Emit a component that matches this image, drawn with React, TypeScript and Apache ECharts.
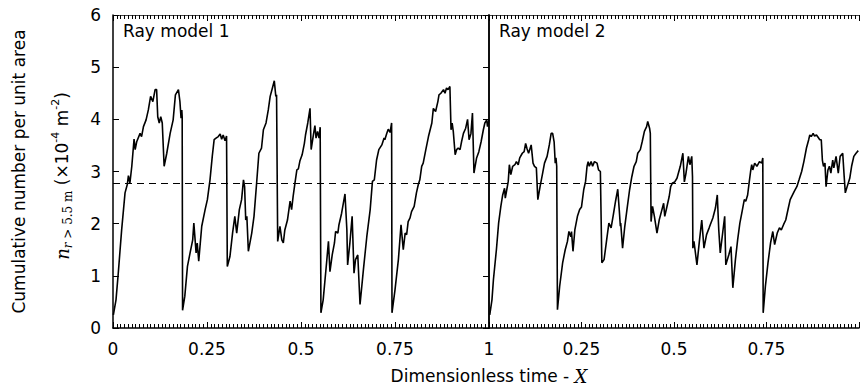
import React, { useEffect, useRef } from "react";
import * as echarts from "echarts";

// Dimensionless time X (0..1) and cumulative number per unit area (x10^-4 m^-2)
const rayModel1: [number, number][] = [
  [0.001, 0.25], [0.008, 0.54], [0.014, 1.05], [0.023, 1.88], [0.032, 2.59], [0.038, 2.75], [0.041, 2.92], [0.045, 2.78],
  [0.05, 3.1], [0.056, 3.62], [0.059, 3.42], [0.063, 3.57], [0.072, 3.73], [0.076, 3.67], [0.081, 3.86], [0.088, 3.99],
  [0.094, 4.18], [0.1, 4.44], [0.106, 4.34], [0.112, 4.57], [0.116, 4.57], [0.119, 4.05], [0.123, 3.93], [0.127, 4.05],
  [0.131, 3.93], [0.136, 3.1], [0.143, 3.35], [0.152, 3.73], [0.16, 3.99], [0.166, 4.47], [0.174, 4.57], [0.178, 4.34],
  [0.181, 4.02], [0.183, 4.18], [0.184, 4.05], [0.185, 0.34], [0.191, 0.61], [0.198, 1.18], [0.205, 1.44], [0.212, 1.69],
  [0.215, 2.01], [0.221, 1.44], [0.224, 1.63], [0.228, 1.28], [0.236, 1.95], [0.245, 2.27], [0.251, 2.46], [0.258, 2.84],
  [0.264, 3.29], [0.269, 3.61], [0.274, 3.64], [0.28, 3.67], [0.285, 3.72], [0.289, 3.62], [0.293, 3.7], [0.298, 3.59],
  [0.302, 3.68], [0.304, 1.18], [0.311, 1.37], [0.318, 1.82], [0.324, 2.14], [0.329, 1.82], [0.336, 2.27], [0.342, 2.46],
  [0.347, 2.84], [0.35, 2.71], [0.353, 2.07], [0.356, 2.14], [0.36, 1.47], [0.369, 1.82], [0.375, 2.14], [0.382, 2.78],
  [0.388, 3.35], [0.395, 3.45], [0.4, 3.8], [0.407, 3.93], [0.413, 4.18], [0.418, 4.44], [0.424, 4.6], [0.429, 4.74],
  [0.433, 4.44], [0.435, 4.47], [0.438, 1.66], [0.444, 1.95], [0.449, 1.69], [0.453, 1.63], [0.457, 1.88], [0.464, 2.07],
  [0.471, 2.43], [0.475, 2.27], [0.479, 2.52], [0.484, 2.78], [0.489, 3.03], [0.493, 3.05], [0.497, 3.2], [0.503, 3.32],
  [0.509, 3.54], [0.512, 3.7], [0.518, 3.93], [0.524, 4.21], [0.527, 3.42], [0.533, 3.7], [0.537, 3.88], [0.54, 3.64],
  [0.544, 3.77], [0.548, 3.64], [0.551, 3.85], [0.553, 0.29], [0.559, 0.54], [0.568, 1.25], [0.573, 1.66], [0.577, 1.08],
  [0.583, 1.4], [0.589, 1.63], [0.592, 1.85], [0.598, 1.82], [0.601, 1.98], [0.608, 2.2], [0.617, 2.57], [0.622, 1.88],
  [0.624, 1.21], [0.63, 1.63], [0.636, 2.14], [0.641, 1.05], [0.645, 1.31], [0.651, 1.4], [0.657, 0.45], [0.666, 1.12],
  [0.675, 1.75], [0.684, 2.27], [0.69, 2.81], [0.695, 2.84], [0.701, 3.22], [0.707, 3.42], [0.715, 3.51], [0.721, 3.64],
  [0.723, 3.61], [0.728, 3.73], [0.732, 3.81], [0.737, 3.75], [0.741, 3.93], [0.742, 0.29], [0.75, 0.73], [0.759, 1.31],
  [0.766, 1.98], [0.772, 1.5], [0.777, 1.82], [0.781, 1.79], [0.785, 2.04], [0.79, 2.11], [0.794, 2.23], [0.801, 2.33],
  [0.807, 2.59], [0.812, 2.75], [0.816, 2.84], [0.821, 3.1], [0.825, 3.16], [0.832, 3.42], [0.839, 3.67], [0.848, 3.93],
  [0.852, 4.21], [0.858, 4.15], [0.864, 4.34], [0.867, 4.47], [0.872, 4.5], [0.879, 4.57], [0.883, 4.5], [0.887, 4.6],
  [0.891, 4.57], [0.896, 4.63], [0.899, 3.8], [0.902, 3.93], [0.905, 3.77], [0.91, 3.32], [0.914, 3.42], [0.918, 3.45],
  [0.923, 3.42], [0.927, 3.57], [0.932, 3.73], [0.938, 3.83], [0.943, 4.0], [0.947, 3.61], [0.952, 3.73], [0.956, 4.12],
  [0.96, 2.97], [0.967, 3.26], [0.973, 3.38], [0.979, 3.57], [0.985, 3.8], [0.989, 3.93], [0.994, 3.99], [0.996, 3.86],
  [1.0, 3.99],
];

const rayModel2: [number, number][] = [
  [0.002, 0.25], [0.008, 0.54], [0.012, 0.93], [0.02, 1.5], [0.026, 2.01], [0.032, 2.33], [0.037, 2.55], [0.042, 2.68],
  [0.044, 2.49], [0.048, 2.65], [0.052, 2.81], [0.055, 3.13], [0.059, 2.94], [0.064, 3.1], [0.07, 3.13], [0.074, 3.19],
  [0.079, 3.13], [0.083, 3.26], [0.09, 3.35], [0.095, 3.38], [0.099, 3.54], [0.103, 3.43], [0.107, 3.35], [0.114, 3.51],
  [0.119, 3.16], [0.123, 3.1], [0.128, 3.07], [0.132, 2.46], [0.138, 2.71], [0.145, 2.97], [0.15, 3.16], [0.157, 3.29],
  [0.163, 3.51], [0.168, 3.73], [0.172, 3.73], [0.176, 3.57], [0.179, 3.16], [0.181, 3.26], [0.183, 3.1], [0.185, 0.35],
  [0.191, 0.8], [0.199, 1.25], [0.206, 1.5], [0.212, 1.66], [0.216, 1.85], [0.221, 1.75], [0.223, 1.85], [0.227, 1.47],
  [0.232, 1.88], [0.239, 2.14], [0.245, 2.27], [0.25, 2.32], [0.256, 2.65], [0.261, 2.81], [0.265, 3.1], [0.268, 3.19],
  [0.271, 3.1], [0.276, 3.19], [0.28, 3.1], [0.285, 3.19], [0.292, 3.16], [0.296, 3.03], [0.301, 3.0], [0.305, 1.25],
  [0.311, 1.31], [0.318, 1.69], [0.324, 2.01], [0.33, 1.92], [0.336, 2.17], [0.342, 2.43], [0.348, 2.66], [0.352, 2.27],
  [0.355, 1.95], [0.356, 2.01], [0.361, 1.53], [0.367, 1.95], [0.374, 2.33], [0.38, 2.65], [0.386, 2.9], [0.392, 3.1],
  [0.398, 3.19], [0.402, 3.35], [0.409, 3.42], [0.414, 3.57], [0.42, 3.77], [0.426, 3.86], [0.429, 3.96], [0.434, 3.83],
  [0.436, 3.73], [0.438, 2.04], [0.442, 2.33], [0.447, 2.14], [0.454, 1.82], [0.46, 2.07], [0.466, 2.23], [0.472, 2.39],
  [0.475, 2.14], [0.481, 2.33], [0.487, 2.52], [0.491, 2.71], [0.496, 2.78], [0.502, 2.8], [0.508, 2.87], [0.517, 3.1],
  [0.524, 3.35], [0.528, 2.8], [0.532, 2.95], [0.539, 3.29], [0.543, 3.13], [0.548, 3.29], [0.55, 2.9], [0.551, 1.53],
  [0.554, 1.66], [0.562, 1.21], [0.569, 1.69], [0.575, 2.07], [0.581, 1.53], [0.588, 1.79], [0.595, 1.92], [0.598, 1.98],
  [0.605, 2.11], [0.612, 2.3], [0.617, 2.55], [0.621, 1.88], [0.625, 1.44], [0.632, 1.85], [0.637, 2.14], [0.64, 1.21],
  [0.648, 1.4], [0.654, 1.56], [0.659, 0.77], [0.666, 1.31], [0.672, 1.69], [0.678, 2.01], [0.685, 2.27], [0.69, 2.46],
  [0.694, 2.43], [0.699, 2.55], [0.703, 2.78], [0.707, 3.0], [0.71, 3.13], [0.713, 3.03], [0.718, 3.16], [0.724, 3.1],
  [0.731, 3.19], [0.737, 3.16], [0.74, 3.26], [0.741, 0.29], [0.747, 0.8], [0.754, 1.25], [0.761, 1.63], [0.767, 1.85],
  [0.772, 1.6], [0.779, 1.82], [0.785, 1.92], [0.79, 1.88], [0.796, 1.98], [0.802, 2.07], [0.809, 2.3], [0.814, 2.46],
  [0.818, 2.52], [0.825, 2.62], [0.832, 2.71], [0.838, 2.84], [0.845, 3.0], [0.851, 3.19], [0.858, 3.45], [0.864, 3.61],
  [0.867, 3.7], [0.871, 3.67], [0.876, 3.73], [0.88, 3.68], [0.885, 3.7], [0.889, 3.66], [0.894, 3.61], [0.898, 3.61],
  [0.901, 3.22], [0.904, 3.1], [0.908, 3.16], [0.911, 2.71], [0.914, 2.9], [0.916, 3.03], [0.92, 3.1], [0.924, 2.97],
  [0.929, 3.22], [0.932, 3.07], [0.938, 3.29], [0.944, 2.97], [0.949, 3.29], [0.956, 3.35], [0.96, 2.9], [0.963, 2.59],
  [0.968, 2.71], [0.975, 2.87], [0.98, 3.1], [0.986, 3.29], [0.992, 3.35], [0.998, 3.4],
];

const threshold = 2.78;
const panelTitles = ["Ray model 1", "Ray model 2"];
const xRange = [0, 1];
const xStep = 0.25;
const yRange = [0, 6];
const yStep = 1;
const xTitle = "Dimensionless time - ";
const xTitleVar = "X";
const yTitle = "Cumulative number per unit area";

export default function App() {
  const ref = useRef<HTMLDivElement>(null);

  useEffect(() => {
    if (!ref.current) return;
    const chart = echarts.init(ref.current, null, { renderer: "svg" });
    const sans = "DejaVu Sans, Liberation Sans, Arial, sans-serif";
    const serif = "DejaVu Serif, Liberation Serif, Times New Roman, serif";
    const FS = 17;
    const GL = 113;
    const GW = 376;
    const GT = 15;
    const GH = 313;

    const mkX = (grid: number, position: string, showLabels: boolean, hideEdges: boolean) => ({
      type: "value",
      gridIndex: grid,
      position,
      min: xRange[0],
      max: xRange[1],
      interval: xStep,
      axisLine: {
        show: true,
        onZero: false,
        lineStyle: position === "top" ? { color: "#444", width: 1 } : { color: "#000", width: 1.5 },
      },
      axisTick: { show: true, inside: true, length: 6, lineStyle: { color: "#000", width: 1 } },
      minorTick: { show: true, splitNumber: 25, length: 4, lineStyle: { color: "#000", width: 1 } },
      splitLine: { show: false },
      minorSplitLine: { show: false },
      axisLabel: {
        show: showLabels,
        margin: 12,
        fontSize: FS,
        fontFamily: sans,
        color: "#000",
        formatter: (v: number) => (hideEdges && (v === 0 || v === 1) ? "" : String(v)),
      },
    });

    const mkY = (grid: number, position: string, showLabels: boolean, showTicks: boolean) => ({
      type: "value",
      gridIndex: grid,
      position,
      min: yRange[0],
      max: yRange[1],
      interval: yStep,
      axisLine: { show: true, onZero: false, lineStyle: { color: "#000", width: 1.5 } },
      axisTick: { show: showTicks, inside: true, length: 6, lineStyle: { color: "#000", width: 1 } },
      splitLine: { show: false },
      axisLabel: { show: showLabels, margin: 12, fontSize: FS, fontFamily: sans, color: "#000" },
    });

    const markLine = {
      silent: true,
      symbol: ["none", "none"],
      label: { show: false },
      lineStyle: { type: [7, 5], color: "#000", width: 1.2 },
      data: [{ yAxis: threshold }],
    };

    const option: any = {
      animation: false,
      backgroundColor: "#fff",
      grid: [
        { left: GL, top: GT, width: GW, height: GH },
        { left: GL + GW, top: GT, width: GW, height: GH },
      ],
      xAxis: [mkX(0, "bottom", true, false), mkX(0, "top", false, false), mkX(1, "bottom", true, true), mkX(1, "top", false, false)],
      yAxis: [mkY(0, "left", true, true), mkY(0, "right", false, true), mkY(1, "left", false, false)],
      series: [
        {
          type: "line",
          xAxisIndex: 0,
          yAxisIndex: 0,
          data: rayModel1,
          showSymbol: false,
          lineStyle: { color: "#000", width: 1.6 },
          markLine,
        },
        {
          type: "line",
          xAxisIndex: 2,
          yAxisIndex: 2,
          data: rayModel2,
          showSymbol: false,
          lineStyle: { color: "#000", width: 1.6 },
          markLine,
        },
      ],
      graphic: [
        {
          type: "text",
          x: GL + 10,
          y: 31,
          style: { text: panelTitles[0], fontSize: FS, fontFamily: sans, fill: "#000", verticalAlign: "middle" },
        },
        {
          type: "text",
          x: GL + GW + 10,
          y: 31,
          style: { text: panelTitles[1], fontSize: FS, fontFamily: sans, fill: "#000", verticalAlign: "middle" },
        },
        {
          type: "text",
          x: GL + GW,
          y: 376,
          style: {
            text: "{a|" + xTitle + "}{b|" + xTitleVar + "}",
            align: "center",
            verticalAlign: "middle",
            rich: {
              a: { fontSize: FS, fontFamily: sans, fill: "#000" },
              b: { fontSize: 18, fontFamily: serif, fontStyle: "italic", fill: "#000" },
            },
          },
        },
        {
          type: "text",
          x: 19,
          y: GT + GH / 2,
          rotation: Math.PI / 2,
          style: { text: yTitle, fontSize: FS, fontFamily: sans, fill: "#000", align: "center", verticalAlign: "middle" },
        },
        {
          type: "text",
          x: 62,
          y: 176,
          rotation: Math.PI / 2,
          style: {
            text: "{n|n}{ri|r}{sub| > 5.5 m}{t| (×10}{sup|-4}{t| m}{sup|-2}{t|)}",
            align: "center",
            verticalAlign: "middle",
            rich: {
              n: { fontSize: 18, fontFamily: serif, fontStyle: "italic", fill: "#000", lineHeight: 24, verticalAlign: "middle" },
              ri: { fontSize: 12, fontFamily: serif, fontStyle: "italic", fill: "#000", lineHeight: 24, verticalAlign: "bottom" },
              sub: { fontSize: 12, fontFamily: serif, fill: "#000", lineHeight: 24, verticalAlign: "bottom" },
              t: { fontSize: FS, fontFamily: sans, fill: "#000", lineHeight: 24, verticalAlign: "middle" },
              sup: { fontSize: 11, fontFamily: sans, fill: "#000", lineHeight: 24, verticalAlign: "top" },
            },
          },
        },
      ],
    };

    chart.setOption(option);
    return () => chart.dispose();
  }, []);

  return (
    <div
      ref={ref}
      style={{ position: "fixed", left: 0, top: 0, width: 862, height: 386, background: "#fff" }}
    />
  );
}
